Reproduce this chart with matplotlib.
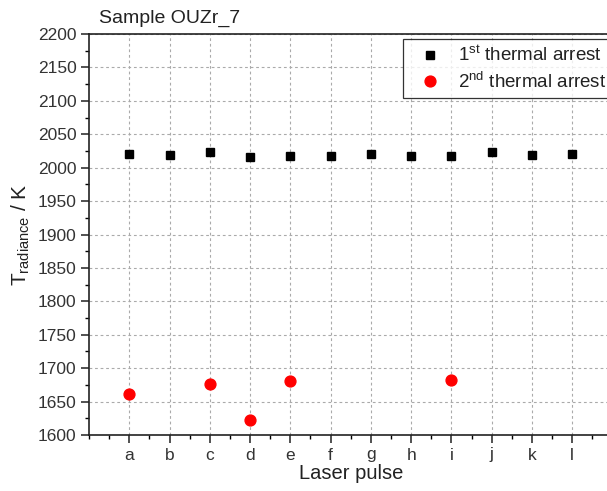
import matplotlib
matplotlib.use('Agg')
import matplotlib.pyplot as plt
from matplotlib.ticker import MultipleLocator

plt.rcParams['font.family'] = ['Liberation Sans', 'DejaVu Sans']
plt.rcParams['mathtext.fontset'] = 'custom'
plt.rcParams['mathtext.rm'] = 'Liberation Sans'
plt.rcParams['mathtext.it'] = 'Liberation Sans'

pulses = ['a', 'b', 'c', 'd', 'e', 'f', 'g', 'h', 'i', 'j', 'k', 'l']
first_arrest = [2021, 2019, 2024, 2016, 2018, 2018, 2021, 2017, 2018, 2024, 2019, 2021]
second_pulses = ['a', 'c', 'd', 'e', 'i']
second_arrest = [1662, 1676, 1622, 1681, 1683]

pos = {p: i + 1 for i, p in enumerate(pulses)}

fig = plt.figure(figsize=(6.07, 4.91), dpi=100)
W, H = 607, 491
# axes runs past the right edge, like the cropped original
ax = fig.add_axes([89 / W, 1 - 435 / H, 523.5 / W, (435 - 34) / H])

ax.plot([pos[p] for p in pulses], first_arrest, 's', color='black', markersize=6.3,
        linestyle='none', label=r'1$^{\rm st}$ thermal arrest', zorder=3)
ax.plot([pos[p] for p in second_pulses], second_arrest, 'o', color='red', markersize=7.8,
        linestyle='none', label=r'2$^{\rm nd}$ thermal arrest', zorder=3)

ax.set_xlim(0, 13)
ax.set_ylim(1600, 2200)
ax.set_xticks(range(1, 13))
ax.set_xticklabels(pulses)
ax.xaxis.set_minor_locator(MultipleLocator(0.5))
ax.yaxis.set_major_locator(MultipleLocator(50))
ax.yaxis.set_minor_locator(MultipleLocator(25))

ax.grid(True, which='major', color='#aaaaaa', linestyle=(0, (2.5, 2.5)), linewidth=0.8)
ax.set_axisbelow(True)

ax.tick_params(axis='both', which='major', direction='out', length=6, width=1.1,
               labelsize=12.5, colors='#222222', labelcolor='#333333', pad=3)
ax.tick_params(axis='both', which='minor', direction='out', length=3, width=1.0)
ax.tick_params(top=False, right=False)
for s in ['left', 'bottom', 'top']:
    ax.spines[s].set_linewidth(1.2)
    ax.spines[s].set_color('#222222')
ax.spines['right'].set_visible(False)

ax.set_xlabel('Laser pulse', fontsize=14.5, labelpad=1, color='#222222')
ax.set_ylabel(r'T$_{\rm radiance}$ / K', fontsize=15, labelpad=4, color='#222222')
fig.text(99 / W, 1 - 23 / H, 'Sample OUZr_7', fontsize=14, va='baseline', ha='left',
         color='#222222')

leg = ax.legend(loc='upper left', bbox_to_anchor=(403 / W, 1 - 39 / H),
                bbox_transform=fig.transFigure, borderaxespad=0,
                fontsize=13.5, frameon=True, fancybox=False, edgecolor='black',
                handletextpad=0.4, borderpad=0.35, labelspacing=0.35, handlelength=2.2)
leg.get_frame().set_linewidth(0.9)
for t in leg.get_texts():
    t.set_color('#222222')

fig.savefig('out.png', dpi=100)
